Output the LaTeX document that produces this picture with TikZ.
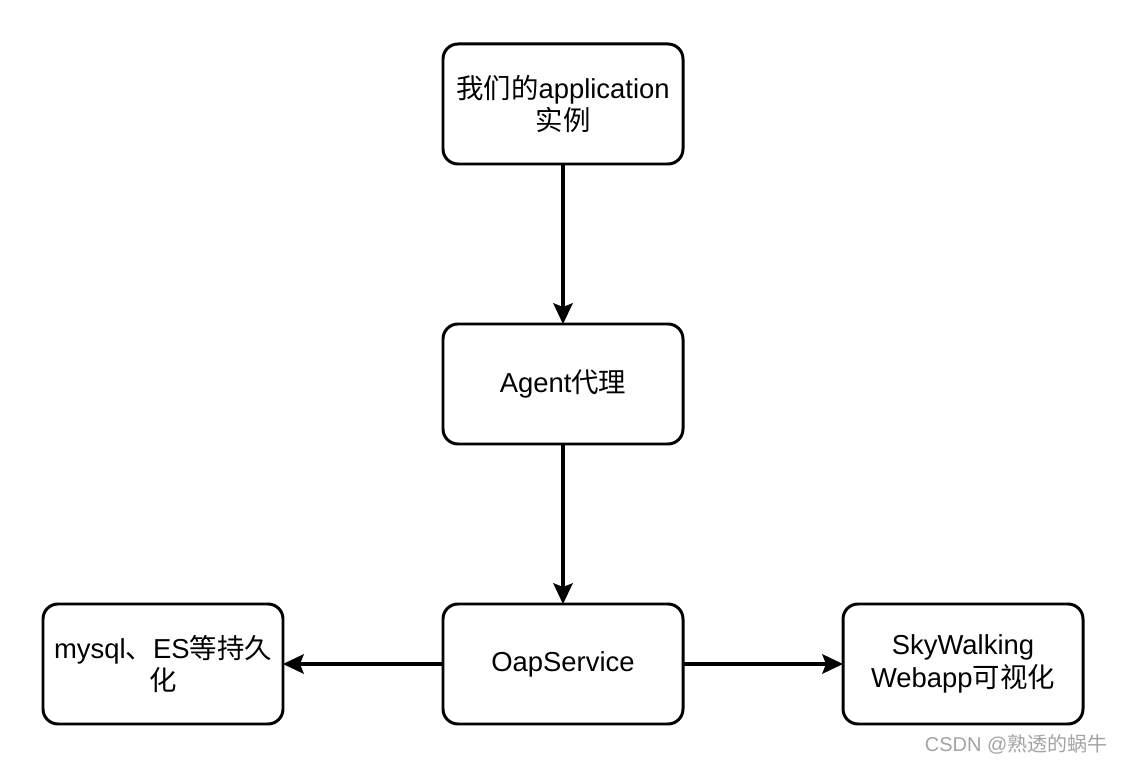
\documentclass[tikz,border=0pt]{standalone}
\usepackage{fontspec}
\setmainfont{Liberation Sans}
\newfontfamily\cjk{Noto Sans CJK SC}
\usepackage{tikz}
\usetikzlibrary{positioning,arrows.meta}
\definecolor{markgray}{HTML}{A3A3A3}
\newcommand{\zh}[1]{{\cjk #1}}
\tikzset{
    every node/.style={font=\fontsize{15.6pt}{18.5pt}\selectfont},
    block/.style={rectangle,rounded corners=0.3cm,draw=black,line width=1.7pt,fill=white,
        minimum width=4.8cm,minimum height=2.4cm,outer sep=0pt,align=center,inner sep=2pt},
    link/.style={line width=2.6pt,-{Stealth[length=0.42cm,width=0.4cm,inset=0.08cm,line width=0pt]}}
}
\begin{document}
\begin{tikzpicture}
\useasboundingbox (0,0) rectangle (22.48,-15.28);
\node[block] (app) at (11.26,-2.08) {\zh{我们的}application\\\zh{实例}};
\node[block,below=3.2cm of app] (agent) {Agent\zh{代理}};
\node[block,below=3.2cm of agent] (oap) {OapService};
\node[block,left=3.2cm of oap] (store) {mysql\zh{、}ES\zh{等持久}\\\zh{化}};
\node[block,right=3.2cm of oap] (webui) {SkyWalking\\Webapp\zh{可视化}};
% connectors
\draw[link] (app) -- (agent);
\draw[link] (agent) -- (oap);
\draw[link] (oap) -- (store);
\draw[link] (oap) -- (webui);
% watermark
\node[anchor=east,text=markgray,font=\fontsize{11.4pt}{13pt}\selectfont,inner sep=0pt] (mark) at (22.16,-14.88) {CSDN @\zh{熟透的蜗牛}};
\end{tikzpicture}
\end{document}
